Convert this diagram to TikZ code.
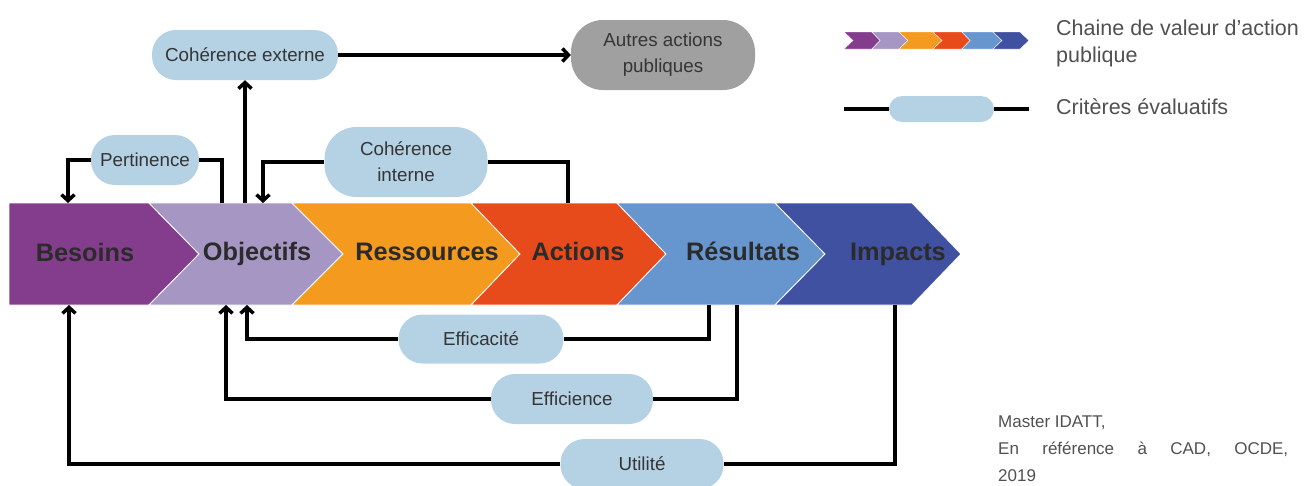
\documentclass[tikz,border=0pt]{standalone}
\usepackage{fontspec}
\setmainfont{Liberation Sans}
\usetikzlibrary{arrows.meta}
\definecolor{cBes}{HTML}{843D8D}
\definecolor{cObj}{HTML}{A696C3}
\definecolor{cRes}{HTML}{F39A1F}
\definecolor{cAct}{HTML}{E84B1B}
\definecolor{cRsl}{HTML}{6795CE}
\definecolor{cImp}{HTML}{3F51A0}
\definecolor{pillc}{HTML}{B5D2E4}
\definecolor{greyc}{HTML}{A0A0A0}
\definecolor{txtc}{HTML}{353535}
\definecolor{lblc}{HTML}{2B2B2B}
\definecolor{legc}{HTML}{505050}
\begin{document}
\begin{tikzpicture}[x=1pt,y=-1pt,
  crit/.style={fill=pillc, inner sep=0pt, text=txtc, align=center,
    font=\fontsize{18.8}{26}\selectfont, minimum height=50pt, rounded corners=24pt},
  tall/.style={minimum height=70pt, rounded corners=32pt},
  chevlbl/.style={text=lblc, font=\fontsize{25.3}{30}\selectfont\bfseries, anchor=base, inner sep=0pt},
  chevfill/.style={draw=white, line width=0.8pt},
  conn/.style={line width=3.5pt, black},
  link/.style={conn, -{Straight Barb[length=6pt,width=13pt]}},
  legtxt/.style={text=legc, font=\fontsize{21.5}{29}\selectfont, anchor=base west, inner sep=0pt},
  foot/.style={text=legc, font=\fontsize{17}{28}\selectfont, anchor=base west, inner sep=0pt}]
\useasboundingbox (0,0) rectangle (1305,485);

% value chain chevrons
\fill[cBes, chevfill] (9,203) -- (149,203) -- (199,254) -- (149,305) -- (9,305) -- cycle;
\fill[cObj, chevfill] (149,203) -- (292,203) -- (343,254) -- (292,305) -- (149,305) -- (199,254) -- cycle;
\fill[cRes, chevfill] (292,203) -- (471,203) -- (520,254) -- (471,305) -- (292,305) -- (343,254) -- cycle;
\fill[cAct, chevfill] (471,203) -- (617,203) -- (666,254) -- (617,305) -- (471,305) -- (520,254) -- cycle;
\fill[cRsl, chevfill] (617,203) -- (775,203) -- (825,254) -- (775,305) -- (617,305) -- (666,254) -- cycle;
\fill[cImp, chevfill] (775,203) -- (912,203) -- (961,254) -- (912,305) -- (775,305) -- (825,254) -- cycle;

\node[chevlbl] (besoins) at (85,261) {Besoins};
\node[chevlbl] (objectifs) at (257,260) {Objectifs};
\node[chevlbl] (ressources) at (427,260) {Ressources};
\node[chevlbl] (actions) at (578,260) {Actions};
\node[chevlbl] (resultats) at (743,260) {Résultats};
\node[chevlbl] (impacts) at (898,260) {Impacts};

% attachment points on the chain
\coordinate (besT) at (68,203);
\coordinate (besB) at (69,305);
\coordinate (objT1) at (222,203);
\coordinate (objT2) at (245,203);
\coordinate (objT3) at (263,203);
\coordinate (objB1) at (226,305);
\coordinate (objB2) at (247,305);
\coordinate (actT) at (568,203);
\coordinate (rslB1) at (709,305);
\coordinate (rslB2) at (737,305);
\coordinate (impB) at (895,305);

% criteria pills
\node[crit, minimum width=186pt] (cext) at (245,55) {Cohérence externe};
\node[crit, tall, fill=greyc, minimum width=184pt] (autres) at (663,55) {Autres actions\\publiques};
\node[crit, minimum width=108pt] (pert) at (145,160) {Pertinence};
\node[crit, tall, minimum width=163pt] (cint) at (406,162) {Cohérence\\interne};
\node[crit, minimum width=165pt, minimum height=49pt] (effic) at (481,339) {Efficacité};
\node[crit, minimum width=162pt] (effie) at (572,399) {Efficience};
\node[crit, minimum width=163pt] (util) at (642,464) {Utilité};

% connectors
\draw[link] (cext.east) -- (autres.west);
\draw[link] (objT2) -- (cext.south);
\draw[conn] (objT1) |- (pert.east);
\draw[link] (pert.west) -| (besT);
\draw[conn] (actT) |- (cint.east);
\draw[link] (cint.west) -| (objT3);
\draw[conn] (rslB1) |- (effic.east);
\draw[link] (effic.west) -| (objB2);
\draw[conn] (rslB2) |- (effie.east);
\draw[link] (effie.west) -| (objB1);
\draw[conn] (impB) |- (util.east);
\draw[link] (util.west) -| (besB);

% legend: value chain
\fill[cBes, draw=white, line width=0.4pt] (844,32) -- (872,32) -- (880,40.5) -- (872,49) -- (844,49) -- (853,40.5) -- cycle;
\fill[cObj, draw=white, line width=0.4pt] (872,32) -- (899,32) -- (908,40.5) -- (899,49) -- (872,49) -- (880,40.5) -- cycle;
\fill[cRes, draw=white, line width=0.4pt] (899,32) -- (933,32) -- (942,40.5) -- (933,49) -- (899,49) -- (908,40.5) -- cycle;
\fill[cAct, draw=white, line width=0.4pt] (933,32) -- (962,32) -- (970,40.5) -- (962,49) -- (933,49) -- (942,40.5) -- cycle;
\fill[cRsl, draw=white, line width=0.4pt] (962,32) -- (993,32) -- (1002,40.5) -- (993,49) -- (962,49) -- (970,40.5) -- cycle;
\fill[cImp, draw=white, line width=0.4pt] (993,32) -- (1020,32) -- (1029,40.5) -- (1020,49) -- (993,49) -- (1002,40.5) -- cycle;
\node[legtxt] (leg1a) at (1056,35) {Chaine de valeur d’action};
\node[legtxt] (leg1b) at (1056,62) {publique};

% legend: criteria
\coordinate (legL) at (844,109);
\coordinate (legR) at (1029,109);
\node[fill=pillc, minimum width=105pt, minimum height=26pt, rounded corners=13pt, inner sep=0pt] (legpill) at (941.5,109) {};
\draw[conn] (legL) -- (legpill.west);
\draw[conn] (legpill.east) -- (legR);
\node[legtxt] (leg2) at (1056,114) {Critères évaluatifs};

% source
\node[foot] (src1) at (998,427) {Master IDATT,};
\node[foot] (src2) at (998,454.5) {\makebox[290pt][s]{En\hfill référence\hfill à\hfill CAD,\hfill OCDE,}};
\node[foot] (src3) at (998,481.5) {2019};
\end{tikzpicture}
\end{document}
